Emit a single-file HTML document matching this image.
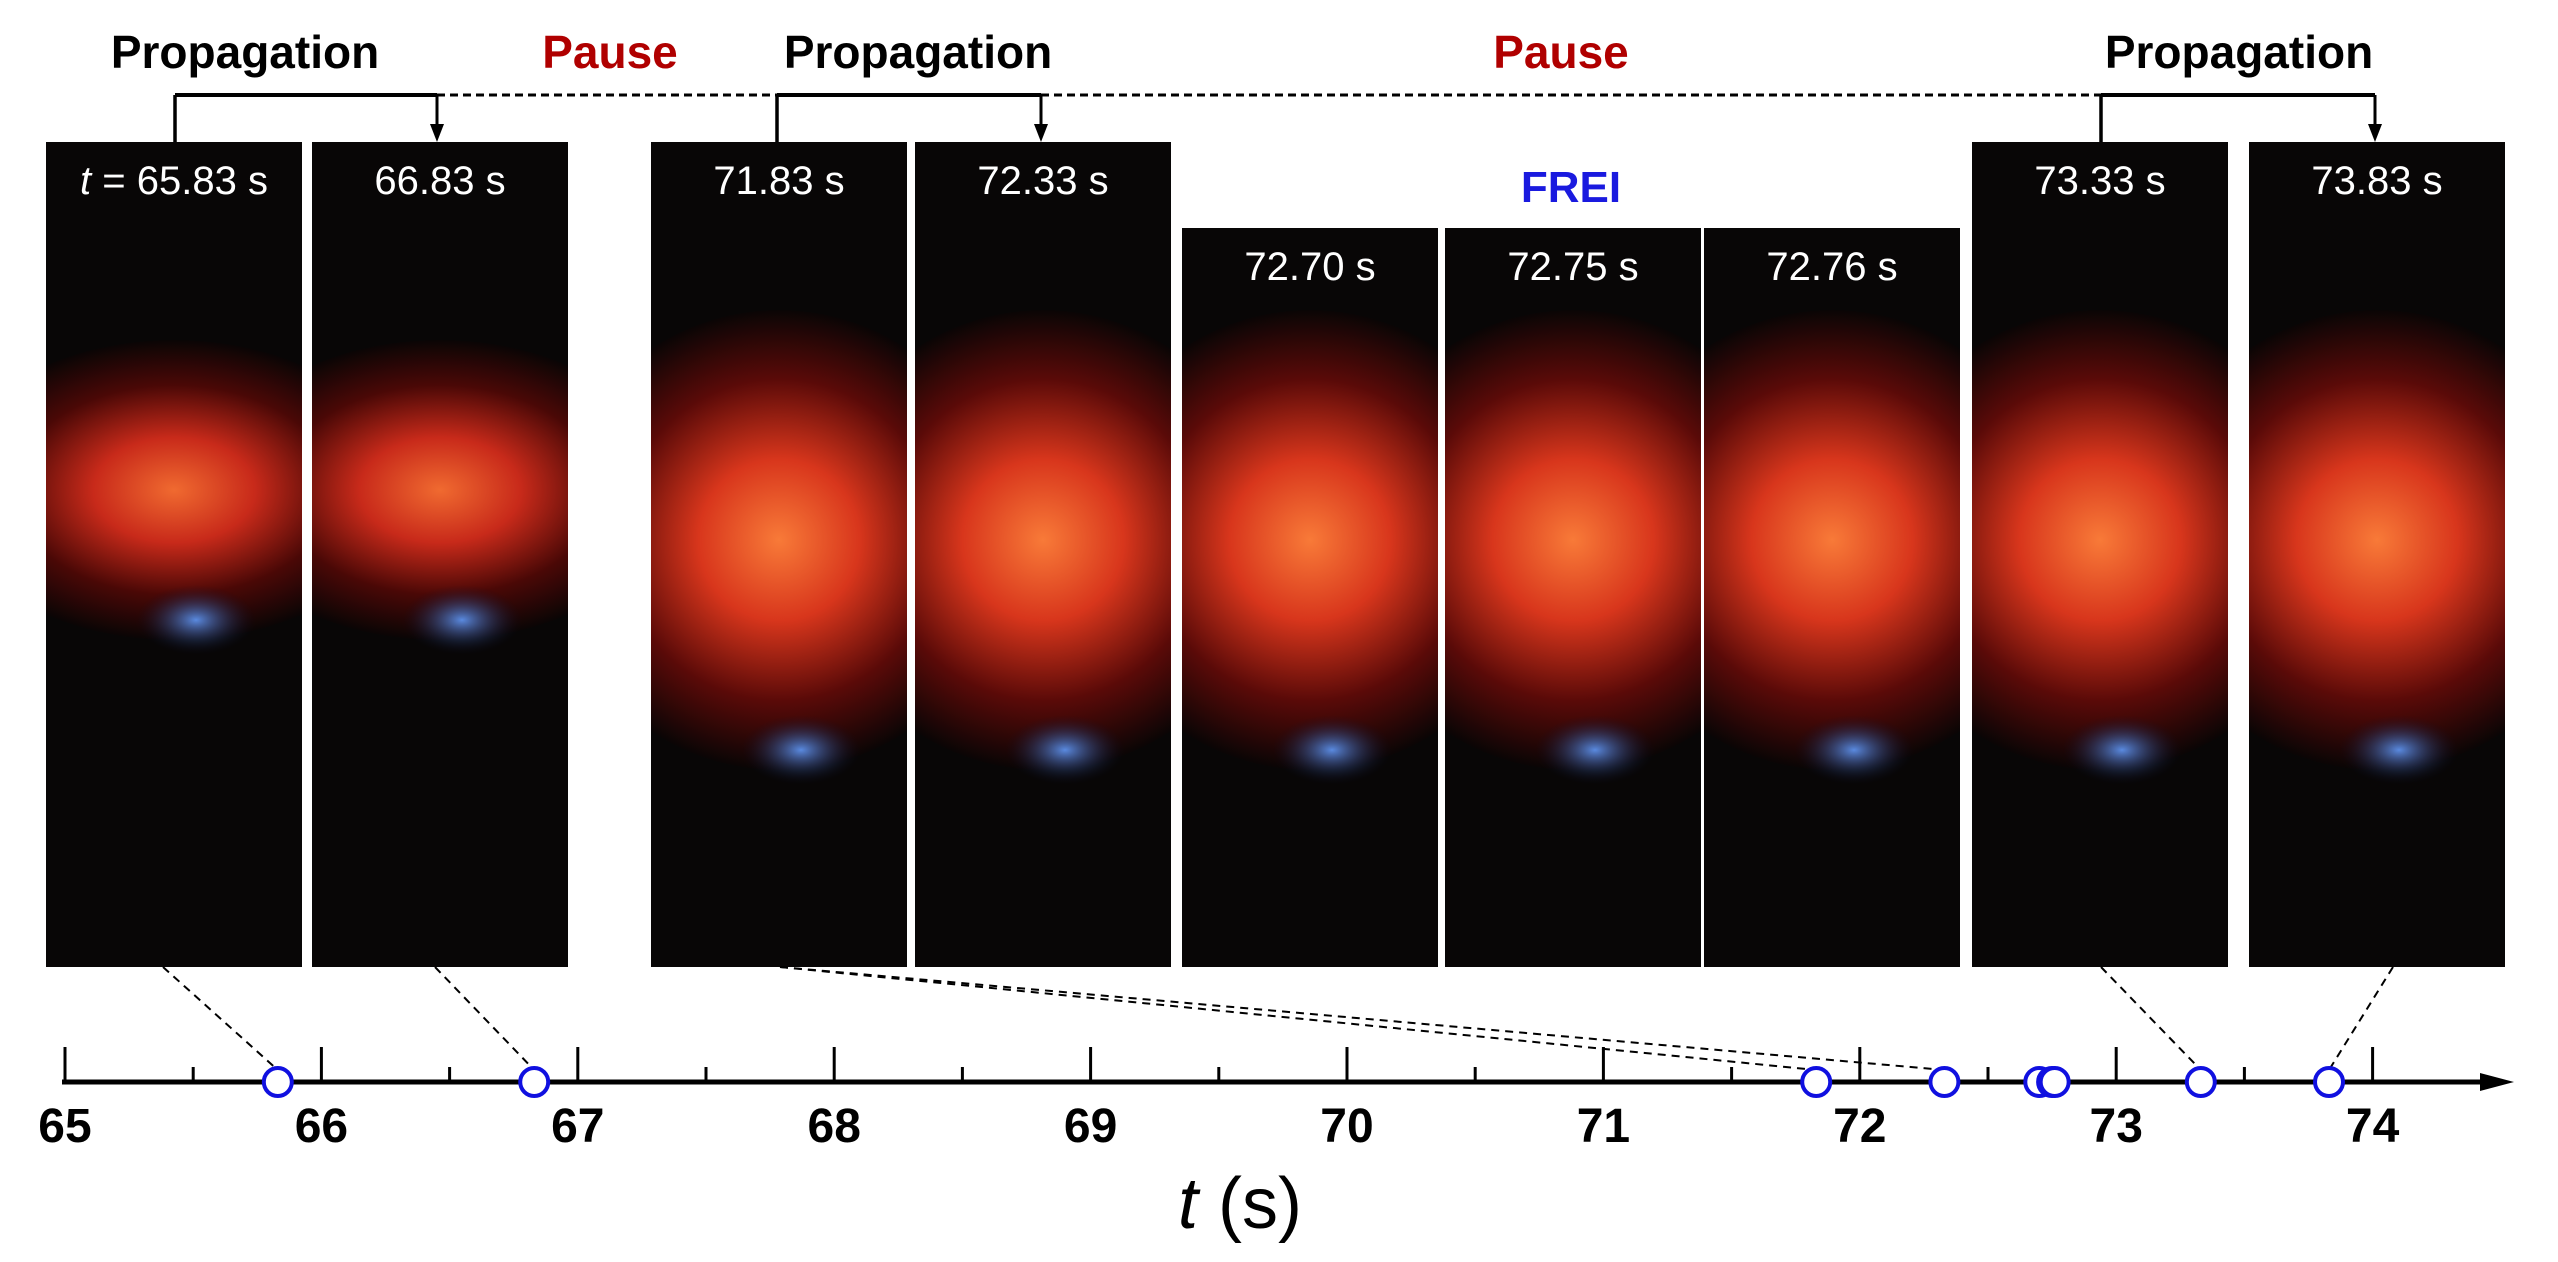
<!DOCTYPE html>
<html><head><meta charset="utf-8"><style>
html,body{margin:0;padding:0;background:#fff}
svg{display:block}
text{font-family:"Liberation Sans",Arial,sans-serif}
</style></head><body>
<svg id="fig" width="2558" height="1262" viewBox="0 0 2558 1262" xmlns="http://www.w3.org/2000/svg">
<defs>
<radialGradient id="glowA" cx="0.5" cy="0.5" r="0.5">
<stop offset="0" stop-color="#f06a30"/><stop offset="0.35" stop-color="#c82a1a"/><stop offset="0.7" stop-color="#4a0806"/><stop offset="1" stop-color="#0a0505"/></radialGradient>
<radialGradient id="glowB" cx="0.5" cy="0.5" r="0.5">
<stop offset="0" stop-color="#f87a38"/><stop offset="0.35" stop-color="#d8361c"/><stop offset="0.7" stop-color="#5a0a08"/><stop offset="1" stop-color="#0a0505"/></radialGradient>
<radialGradient id="blue" cx="0.5" cy="0.5" r="0.5">
<stop offset="0" stop-color="#5a8ae0"/><stop offset="1" stop-color="#0a0a20" stop-opacity="0"/></radialGradient>
</defs>
<g id="panels"></g>
<g id="bracket"></g>
<g id="axis"></g>
</svg>
<script>
const ticks=[65,66,67,68,69,70,71,72,73,74];
const markTimes=[65.83,66.83,71.83,72.33,72.70,72.75,72.76,73.33,73.83];
const panelLabels=["= 65.83 s","66.83 s","71.83 s","72.33 s","72.70 s","72.75 s","72.76 s","73.33 s","73.83 s"];
const NS="http://www.w3.org/2000/svg";
const X=v=>65+(v-65)*256.4;
const AY=1082;
function el(tag,attrs,parent){const e=document.createElementNS(NS,tag);for(const k in attrs)e.setAttribute(k,attrs[k]);parent.appendChild(e);return e;}
const P=document.getElementById('panels'),B=document.getElementById('bracket'),A=document.getElementById('axis');
const defs=document.querySelector('defs');
const px=[46,312,651,915,1182,1445,1704,1972,2249];
const ptop=[142,142,142,142,228,228,228,142,142];
px.forEach((x,i)=>{
 const cp=el('clipPath',{id:'cp'+i},defs);
 el('rect',{x:x,y:ptop[i],width:256,height:967-ptop[i]},cp);
 const g=el('g',{'clip-path':'url(#cp'+i+')'},P);
 
 
 el('rect',{x:x,y:ptop[i],width:256,height:967-ptop[i],fill:'#080606'},g);
 const early=i<2;
 const cy=early?490:540, ry=early?150:230;
 el('ellipse',{cx:x+128,cy:cy,rx:230,ry:ry,fill:early?'url(#glowA)':'url(#glowB)'},g);
 el('ellipse',{cx:x+150,cy:early?620:750,rx:60,ry:35,fill:'url(#blue)'},g);
 const t=el('text',{x:x+128,y:ptop[i]+52,'text-anchor':'middle','font-size':40,fill:'#fff'},g);
 if(i===0){t.innerHTML='<tspan font-style="italic">t</tspan> '+panelLabels[i];}else t.textContent=panelLabels[i];
 
 
});
const fr=el('text',{x:1571,y:202,'text-anchor':'middle','font-size':44,'font-weight':'bold',fill:'#1a1adf'},P);
fr.textContent='FREI';


const tl=[["Propagation",245,"#000"],["Pause",610,"#b00000"],["Propagation",918,"#000"],["Pause",1561,"#b00000"],["Propagation",2239,"#000"]];
tl.forEach(([s,x,c])=>{
 const t=el('text',{x:x,y:68,'text-anchor':'middle','font-size':46,'font-weight':'bold',fill:c},B);
 t.textContent=s;
 
 
});
const by=95;
[[175,437],[777,1041],[2101,2375]].forEach(([a,b])=>{
 el('line',{x1:a,y1:by,x2:b,y2:by,stroke:'#000','stroke-width':4},B);
 el('line',{x1:a,y1:by,x2:a,y2:142,stroke:'#000','stroke-width':3.5},B);
 el('line',{x1:b,y1:by,x2:b,y2:128,stroke:'#000','stroke-width':3},B);
 el('path',{d:`M${b-7},124 L${b+7},124 L${b},142 Z`,fill:'#000'},B);
});
[[437,777],[1041,2101]].forEach(([a,b])=>el('line',{x1:a,y1:by,x2:b,y2:by,stroke:'#000','stroke-width':3,'stroke-dasharray':'8,5'},B));
const conn=[[163,0],[435,1],[780,2],[780,3],[2101,7],[2393,8]];
conn.forEach(([x,i])=>el('line',{x1:x,y1:967,x2:X(markTimes[i]),y2:AY-12,stroke:'#000','stroke-width':2,'stroke-dasharray':'8,6'},A));
const ax=el('line',{x1:62,y1:AY,x2:2490,y2:AY,stroke:'#000','stroke-width':5},A);


el('path',{d:`M2480,${AY-9} L2514,${AY} L2480,${AY+9} Z`,fill:'#000'},A);
ticks.forEach(v=>{
 el('line',{x1:X(v),y1:AY,x2:X(v),y2:1047,stroke:'#000','stroke-width':3},A);
 if(v<74) el('line',{x1:X(v+0.5),y1:AY,x2:X(v+0.5),y2:1067,stroke:'#000','stroke-width':3},A);
 const t=el('text',{x:X(v),y:1142,'text-anchor':'middle','font-size':48,'font-weight':'bold',fill:'#000'},A);
 t.textContent=v;
 
 
});
markTimes.forEach(v=>{
 const c=el('circle',{cx:X(v),cy:AY,r:14,fill:'#fff',stroke:'#1010e0','stroke-width':4},A);
 
 
});
const xt=el('text',{x:1240,y:1228,'text-anchor':'middle','font-size':72,fill:'#000'},A);
xt.innerHTML='<tspan font-style="italic">t</tspan> (s)';


</script>
</body></html>
